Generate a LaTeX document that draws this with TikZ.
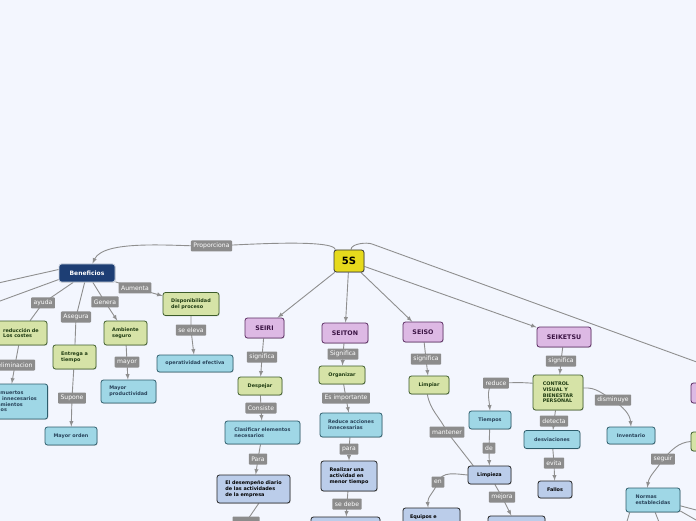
\documentclass[tikz,border=0pt]{standalone}
\usepackage{fontspec}
\setmainfont{DejaVu Sans}
\usetikzlibrary{shadows}

\definecolor{bgpage}{HTML}{F3F6FE}
\definecolor{linkgray}{HTML}{8F8F8F}
\definecolor{lblgray}{HTML}{8C8C8C}
\definecolor{yelfill}{HTML}{E6DA1C}
\definecolor{benfill}{HTML}{1D3E74}
\definecolor{seifill}{HTML}{DDB9E4}
\definecolor{seidraw}{HTML}{5A2C62}
\definecolor{seitext}{HTML}{3B1444}
\definecolor{grnfill}{HTML}{D6E3A7}
\definecolor{grndraw}{HTML}{3D5C2B}
\definecolor{grntext}{HTML}{1F3B12}
\definecolor{cyfill}{HTML}{9FD7E6}
\definecolor{cydraw}{HTML}{2E5D6C}
\definecolor{cytext}{HTML}{28435A}
\definecolor{lavfill}{HTML}{BBCDEA}
\definecolor{lavdraw}{HTML}{242424}

\pgfdeclarelayer{bg}
\pgfdeclarelayer{edges}
\pgfsetlayers{bg,edges,main}

\begin{document}
\begin{tikzpicture}[x=1pt, y=1pt,
    box/.style={rectangle, draw, rounded corners=2.5pt, line width=0.8pt,
                inner sep=2pt, align=left, font=\fontsize{4.9}{5.7}\selectfont\bfseries,
                drop shadow={shadow xshift=0.6pt, shadow yshift=-0.8pt, opacity=0.3}},
    seibox/.style={box, fill=seifill, draw=seidraw, text=seitext, align=center,
                   minimum height=20pt, font=\fontsize{6.3}{7}\selectfont\bfseries},
    grnbox/.style={box, fill=grnfill, draw=grndraw, text=grntext},
    cybox/.style={box, fill=cyfill, draw=cydraw, text=cytext},
    lavbox/.style={box, fill=lavfill, draw=lavdraw, text=black},
    lbl/.style={rectangle, rounded corners=0.8pt, fill=lblgray, text=white, inner xsep=2.5pt,
                inner ysep=0pt, minimum height=11pt, font=\fontsize{6.1}{7}\selectfont},
    link/.style={draw=linkgray, line width=0.9pt},
    arrow/.style={link, ->, >=latex}
]
\useasboundingbox (0,0) rectangle (696,520);
\begin{pgfonlayer}{bg}
\fill[bgpage] (-80,-60) rectangle (780,580);
\end{pgfonlayer}

% centre
\node[box, fill=yelfill, draw=black!80, text=black, align=center, minimum width=30pt,
      minimum height=22pt, font=\fontsize{10}{11}\selectfont\bfseries] (ss) at (349,259) {5S};
\node[box, fill=benfill, draw=white!75!benfill, text=white, minimum width=56pt,
      minimum height=18pt, font=\fontsize{6}{7}\selectfont\bfseries] (ben) at (87,247) {Beneficios};

% Beneficios
\node[grnbox, minimum width=52pt, minimum height=24pt] (costes) at (21,187) {reducción de\\Los costes};
\node[cybox, anchor=east, inner xsep=6pt, text width=66pt, minimum height=35pt] (muertos) at (48,118.5)
     {Tiempos muertos\\Procesos innecesarios\\Desplazamientos\\Inventarios};
\node[grnbox, minimum width=43pt, minimum height=24pt] (entrega) at (74.5,163) {Entrega a\\tiempo};
\node[cybox, minimum width=52pt, minimum height=18pt] (orden) at (71,84) {Mayor orden};
\node[grnbox, minimum width=43pt, minimum height=24pt] (ambiente) at (125.5,187) {Ambiente\\seguro};
\node[cybox, minimum width=55pt, minimum height=23pt] (product) at (128.5,128.5) {Mayor\\productividad};
\node[grnbox, minimum width=56pt, minimum height=23pt] (dispon) at (191,216) {Disponibilidad\\del proceso};
\node[cybox, minimum width=76pt, minimum height=17pt] (operat) at (195,156.5) {operatividad efectiva};

% SEIRI
\node[seibox, minimum width=39pt] (seiri) at (264.5,192) {SEIRI};
\node[grnbox, minimum width=44pt, minimum height=18pt] (despejar) at (260,134) {Despejar};
\node[cybox, minimum width=75pt, minimum height=23pt] (clasif) at (262.5,87.5) {Clasificar elementos\\necesarios};
\node[lavbox, minimum width=73pt, minimum height=28pt] (desemp) at (253.5,31)
     {El desempeño diario\\de las actividades\\de la empresa};

% SEITON
\node[seibox, minimum width=46pt] (seiton) at (345,187) {SEITON};
\node[grnbox, minimum width=46pt, minimum height=18pt] (organizar) at (342,145) {Organizar};
\node[cybox, minimum width=62pt, minimum height=24pt] (reduce) at (351,95) {Reduce acciones\\innecesarias};
\node[lavbox, minimum width=56pt, minimum height=30pt] (realizar) at (349,44) {Realizar una\\actividad en\\menor tiempo};
\node[lavbox, minimum width=69pt, minimum height=24pt] (seitonfin) at (345.5,-9) {};

% SEISO
\node[seibox, minimum width=40pt] (seiso) at (423,188) {SEISO};
\node[grnbox, minimum width=40pt, minimum height=18pt] (limpiar) at (429,135) {Limpiar};
\node[cybox, minimum width=42pt, minimum height=18pt] (tiempos) at (490,100) {Tiempos};
\node[lavbox, minimum width=43pt, minimum height=18pt] (limpieza) at (489.5,45) {Limpieza};
\node[lavbox, inner xsep=7pt, text width=43pt, minimum height=18pt] (equipos) at (431.5,3) {Equipos e};
\node[lavbox, minimum width=57pt, minimum height=20pt] (mejorafin) at (516.5,-6) {};

% SEIKETSU
\node[seibox, minimum width=54pt] (seiketsu) at (564,183) {SEIKETSU};
\node[grnbox, minimum width=50pt, minimum height=35pt] (control) at (558,127.5) {CONTROL\\VISUAL Y\\BIENESTAR\\PERSONAL};
\node[cybox, minimum width=56pt, minimum height=18pt] (desviac) at (552,80.5) {desviaciones};
\node[lavbox, minimum width=34pt, minimum height=17pt] (fallos) at (555,30.5) {Fallos};
\node[cybox, minimum width=48pt, minimum height=17pt] (inventario) at (631,84.5) {Inventario};

% right edge
\node[seibox, minimum width=62pt] (shitsuke) at (722,127) {};
\node[grnbox, minimum width=40pt, minimum height=19pt] (normasorig) at (711,78.5) {};
\node[cybox, minimum width=54pt, minimum height=24pt] (normas) at (653,20) {Normas\\establecidas};

\coordinate (offben1) at (-60,224);
\coordinate (offben2) at (-60,197);
\coordinate (offnorm1) at (620,-25);
\coordinate (offnorm2) at (668,-25);
\coordinate (offnorm3) at (760,-7);
\coordinate (offnorm4) at (740,-25);
\coordinate (bend5s) at (372,276);

% labels
\node[lbl] (lproporc) at (211.5,274) {Proporciona};
\node[lbl] (layuda) at (43,217) {ayuda};
\node[lbl] (lelimin) at (15,155) {eliminacion};
\node[lbl] (lasegura) at (76,203) {Asegura};
\node[lbl] (lsupone) at (72,122) {Supone};
\node[lbl] (lgenera) at (105,218) {Genera};
\node[lbl] (lmayor) at (127,158) {mayor};
\node[lbl] (laumenta) at (135,232) {Aumenta};
\node[lbl] (lseeleva) at (191,190) {se eleva};
\node[lbl] (lsigseiri) at (262,163) {significa};
\node[lbl] (lconsiste) at (261,112) {Consiste};
\node[lbl] (lpara) at (258,61) {Para};
\node[lbl, minimum width=27pt] (lbotseiri) at (246,-2) {};
\node[lbl] (lsigseiton) at (343,166) {Significa};
\node[lbl] (limport) at (346,122) {Es importante};
\node[lbl] (lparaseiton) at (349,71) {para};
\node[lbl] (lsedebe) at (347,16) {se debe};
\node[lbl] (lsigseiso) at (426,161) {significa};
\node[lbl] (lmantener) at (447,88) {mantener};
\node[lbl] (lreduce) at (496,137) {reduce};
\node[lbl] (lde) at (489,72) {de};
\node[lbl] (len) at (438,38) {en};
\node[lbl] (lmejora) at (502,23) {mejora};
\node[lbl] (lsigseik) at (561,159) {significa};
\node[lbl] (ldetecta) at (554,99) {detecta};
\node[lbl] (levita) at (554,57) {evita};
\node[lbl] (ldismin) at (613,120) {disminuye};
\node[lbl] (lseguir) at (663,61) {seguir};

\begin{pgfonlayer}{edges}
\draw[arrow] (ss.140) to[out=100,in=0,looseness=0.25] (lproporc.center)
    to[out=182,in=65,looseness=0.6] (ben.60);
\draw[link] (ben.173) -- (offben1);
\draw[link] (ben.193) -- (offben2);
\draw[link] (ben) -- (layuda.center) -- (costes);
\draw[arrow] (costes) -- (lelimin.center) -- (muertos);
\draw[link] (ben) -- (lasegura.center) -- (entrega);
\draw[arrow] (entrega) -- (lsupone.center) -- (orden);
\draw[arrow] (ben) -- (lgenera.center) -- (ambiente);
\draw[arrow] (ambiente) -- (lmayor.center) -- (product);
\draw[arrow] (ben) -- (laumenta.center) -- (dispon);
\draw[arrow] (dispon) -- (lseeleva.center) -- (operat);
\draw[arrow] (ss) -- (seiri);
\draw[arrow] (ss) -- (seiton);
\draw[arrow] (ss) -- (seiso);
\draw[arrow] (ss) -- (seiketsu);
\draw[arrow] (ss.80) to[out=90,in=160,looseness=0.7] (bend5s) -- (shitsuke.north east);
\draw[arrow] (seiri) -- (lsigseiri.center) -- (despejar);
\draw[arrow] (despejar) -- (lconsiste.center) -- (clasif);
\draw[arrow] (clasif) -- (lpara.center) -- (desemp);
\draw[link] (desemp.-70) -- (lbotseiri.center);
\draw[arrow] (seiton) -- (lsigseiton.center) -- (organizar);
\draw[arrow] (organizar) -- (limport.center) -- (reduce);
\draw[arrow] (reduce) -- (lparaseiton.center) -- (realizar);
\draw[arrow] (realizar) -- (lsedebe.center) -- (seitonfin);
\draw[arrow] (seiso) -- (lsigseiso.center) -- (limpiar);
\draw[link] (limpiar.-100) to[out=-80,in=115] (lmantener.center) -- (limpieza.150);
\draw[arrow] (control.160) to[out=175,in=0] (lreduce.center) to[out=190,in=95] (tiempos.north);
\draw[arrow] (tiempos) -- (lde.center) -- (limpieza);
\draw[arrow] (limpieza.west) to[out=175,in=70] (len.center) to[out=-110,in=95] (equipos.110);
\draw[arrow] (limpieza) -- (lmejora.center) -- (mejorafin);
\draw[arrow] (seiketsu) -- (lsigseik.center) -- (control);
\draw[arrow] (control) -- (ldetecta.center) -- (desviac);
\draw[arrow] (desviac) -- (levita.center) -- (fallos);
\draw[arrow] (control.10) to[out=5,in=150] (ldismin.center) to[out=-35,in=95] (inventario.north);
\draw[arrow] (normasorig.west) to[out=185,in=45] (lseguir.center) to[out=-120,in=80] (normas.115);
\draw[link] (normas.-152) -- (offnorm1);
\draw[link] (normas.-80) -- (offnorm2);
\draw[link] (normas.-12) -- (offnorm3);
\draw[link] (normas.-22) -- (offnorm4);
\end{pgfonlayer}
\end{tikzpicture}
\end{document}
